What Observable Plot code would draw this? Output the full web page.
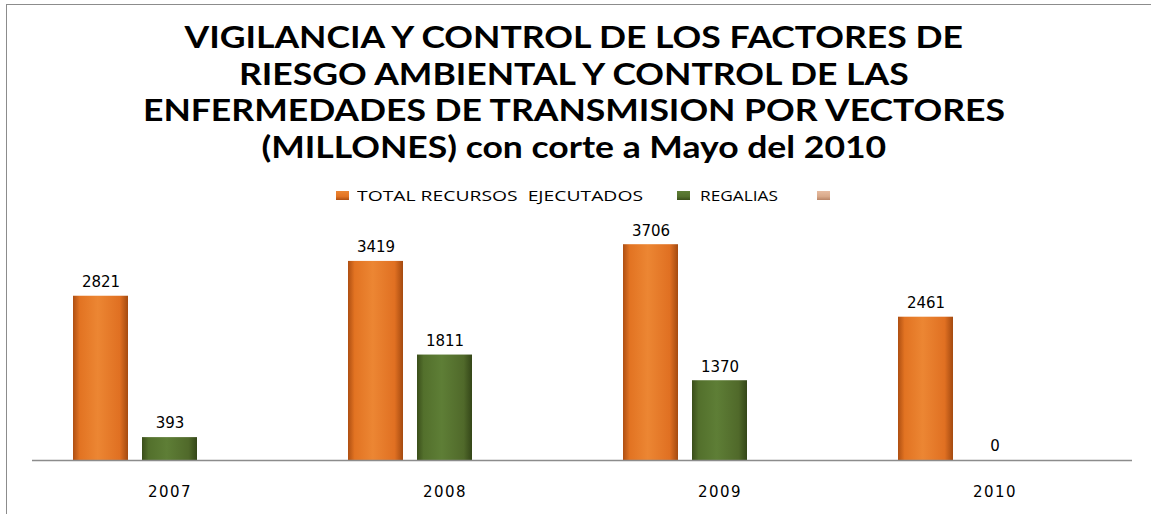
<!DOCTYPE html>
<html><head><meta charset="utf-8">
<script src="https://cdn.jsdelivr.net/npm/d3@7"></script>
<script src="https://cdn.jsdelivr.net/npm/@observablehq/plot@0.6"></script>
<style>
body{margin:0;background:#fff;}
#wrap{position:relative;width:1151px;height:514px;overflow:hidden;background:#fff;}
#frame{position:absolute;left:6px;top:4px;width:1200px;height:600px;border:1px solid #8c8c8c;box-sizing:border-box;}
#title{position:absolute;left:0;top:0;width:1148px;padding-top:18px;text-align:center;font-family:Lato,"Open Sans",sans-serif;font-weight:700;font-size:30px;line-height:36.7px;color:#000;}
#title div{white-space:pre;height:36.7px;}
#title span{display:inline-block;transform-origin:50% 50%;}
#legend{position:absolute;left:0;top:185px;width:1151px;height:20px;font-family:"Open Sans",sans-serif;font-size:15px;color:#000;white-space:pre;}
#legend .sw{position:absolute;top:6px;width:13px;height:9px;}
#legend .tx{position:absolute;top:0;line-height:20px;transform-origin:0 50%;}
#chart{position:absolute;left:0;top:210px;}
</style></head>
<body><div id="wrap"><div id="frame"></div><div id="title"></div><div id="legend"></div><div id="chart"></div></div>
<script>
const titleLines = [
  "VIGILANCIA Y CONTROL DE LOS FACTORES DE",
  "RIESGO AMBIENTAL Y CONTROL DE LAS",
  "ENFERMEDADES DE TRANSMISION POR VECTORES",
  "(MILLONES) con corte a Mayo del 2010"
];
const years = ["2007", "2008", "2009", "2010"];
const series = ["TOTAL RECURSOS  EJECUTADOS", "REGALIAS", ""];
const totalRecursos = [2821, 3419, 3706, 2461];
const regalias = [393, 1811, 1370, 0];
const colors = [
  ["#AE4F12", "#E27322", "#EC8633", "#E07022", "#A44A10"],
  ["#3A4E1A", "#53702C", "#5E7E36", "#50692A", "#344618"],
  ["#B98567", "#D9A98A", "#E6BBA0", "#D6A585", "#B07D60"]
];

// title (horizontally stretched like the original's wide bold face)
const title = document.getElementById("title");
const titleSpans = titleLines.map(t => {
  const d = document.createElement("div");
  const s = document.createElement("span"); s.textContent = t;
  d.appendChild(s); title.appendChild(d); return s;
});
const tScale = 862 / titleSpans[2].getBoundingClientRect().width;
titleSpans.forEach(s => s.style.transform = `scaleX(${tScale})`);

// legend
const legend = document.getElementById("legend");
const swX = [336, 677, 817], txX = [357, 700, null], txW = [286, 78, null];
series.forEach((s, i) => {
  const sw = document.createElement("div"); sw.className = "sw";
  sw.style.left = swX[i] + "px";
  sw.style.background = `linear-gradient(to bottom, ${colors[i][2]}, ${colors[i][1]} 60%, ${colors[i][0]})`;
  legend.appendChild(sw);
  if (s) {
    const tx = document.createElement("span"); tx.className = "tx"; tx.textContent = s;
    tx.style.left = txX[i] + "px";
    legend.appendChild(tx);
    tx.style.transform = `scaleX(${txW[i] / tx.getBoundingClientRect().width})`;
  }
});

const data = [];
years.forEach((y, i) => {
  data.push({year: y, series: series[0], value: totalRecursos[i]});
  data.push({year: y, series: series[1], value: regalias[i]});
});

const plot = Plot.plot({
  width: 1151, height: 304,
  marginLeft: 30, marginRight: 18, marginTop: 20, marginBottom: 54,
  fx: {domain: years, padding: 0, label: null},
  x: {domain: series, axis: null, paddingInner: 0.2, paddingOuter: 0.571},
  y: {domain: [0, 3950], axis: null},
  color: {domain: series, range: series.map((s, i) => `url(#grad${i})`)},
  style: {fontFamily: "DejaVu Sans", fontSize: "15px", color: "#000", background: "transparent", overflow: "visible"},
  marks: [
    Plot.barY(data, {fx: "year", x: "series", y: "value", fill: "series"}),
    Plot.ruleY([0], {stroke: "#8c8c8c", strokeWidth: 1.3}),
    Plot.text(data, {fx: "year", x: "series", y: "value", text: d => String(d.value), dy: -14, fontSize: 15, fill: "#000", letterSpacing: 0.8}),
    Plot.axisFx({anchor: "bottom", tickSize: 0, tickPadding: 26, fontSize: 15, label: null})
  ]
});
const svg = d3.select(plot);
svg.selectAll("[aria-label='fx-axis tick label'] text").style("letter-spacing", "1.5px");
const defs = svg.insert("defs", ":first-child");
colors.forEach((c, i) => {
  const g = defs.append("linearGradient").attr("id", `grad${i}`).attr("x1", 0).attr("x2", 1).attr("y1", 0).attr("y2", 0);
  [[0, c[0]], [0.12, c[1]], [0.45, c[2]], [0.85, c[3]], [1, c[4]]].forEach(([o, col]) =>
    g.append("stop").attr("offset", o).attr("stop-color", col));
});
document.getElementById("chart").appendChild(plot);
</script>
</body></html>
